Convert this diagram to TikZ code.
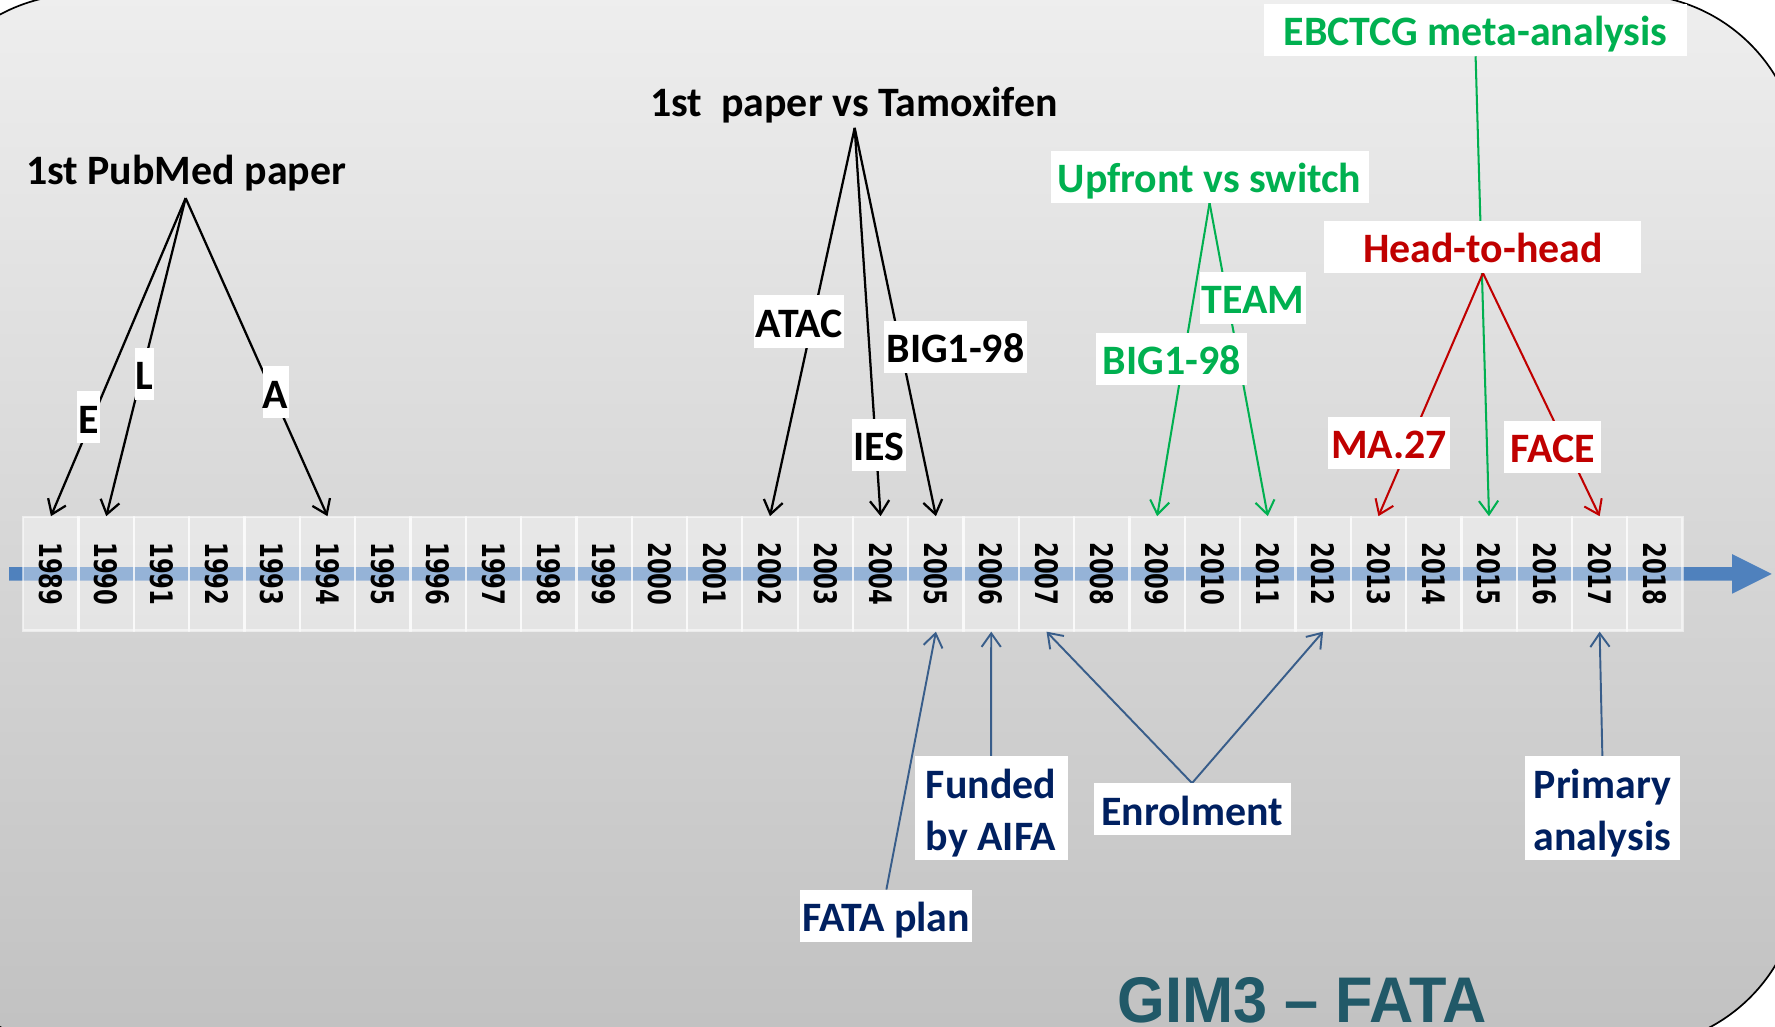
\documentclass[tikz,border=0pt]{standalone}
\usepackage{fontspec}
\usepackage{graphicx}
\setmainfont{Carlito}
\newfontfamily\yearfont{DejaVu Sans}
\newfontfamily\titlefont{Liberation Sans}
\usetikzlibrary{arrows.meta}
\definecolor{bgtop}{RGB}{238,238,238}
\definecolor{bgbot}{RGB}{193,193,193}
\definecolor{barblue}{RGB}{79,129,189}
\definecolor{grn}{RGB}{0,176,80}
\definecolor{redc}{RGB}{192,0,0}
\definecolor{navy}{RGB}{0,32,96}
\definecolor{lineblue}{RGB}{56,93,138}
\definecolor{teal}{RGB}{33,89,104}
\pgfdeclarelayer{bg}
\pgfdeclarelayer{lines}
\pgfsetlayers{bg,lines,main}
\newcommand\lblfont{\fontsize{37}{46}\selectfont\bfseries}
\tikzset{
  cell/.style={draw=white, draw opacity=0.55, line width=2pt, fill=white, fill opacity=0.4, text opacity=1,
    minimum width=48.86pt, minimum height=100pt, inner sep=0pt},
  lbl/.style={fill=white, inner xsep=0pt, inner ysep=0pt, minimum height=46pt,
    text height=28pt, text depth=0pt, font=\lblfont},
  lbltwo/.style={lbl, align=center, text height=74pt, minimum height=92pt},
  hdr/.style={font=\lblfont, inner sep=0pt, anchor=base},
  tip/.style={-{Straight Barb[length=12pt,width=17pt]}},
  blk/.style={draw=black, line width=2pt, tip},
  grnl/.style={draw=grn, line width=1.8pt, tip},
  redl/.style={draw=redc, line width=1.8pt, tip},
  bluel/.style={draw=lineblue, line width=1.7pt, tip},
}
\begin{document}
\begin{tikzpicture}[x=1pt,y=-1pt]
\useasboundingbox (0,0) rectangle (1568,907);
\clip (0,0) rectangle (1568,907);
\begin{pgfonlayer}{bg}
\fill[white] (0,0) rectangle (1568,907);
\path[draw=black, line width=1.5pt, top color=bgtop, bottom color=bgbot, rounded corners=150pt]
  (-79,-5) rectangle (1590,925);
\fill[barblue] (8,501) -- (1530,501) -- (1530,489.5) -- (1565,507) -- (1530,524.5)
  -- (1530,513) -- (8,513) -- cycle;
\foreach \yr [evaluate=\yr as \xx using {45+48.86*(\yr-1989)}] in {1989,...,2018} {
  \node[cell] (y\yr) at (\xx,507)
    {\rotatebox{-90}{\scalebox{0.73}[1]{\fontsize{27.4}{30}\yearfont\bfseries\yr}}};
}
\end{pgfonlayer}

% headers and apex nodes
\node[hdr] (pub) at (164.5,163) {1st PubMed paper};
\coordinate (pubA) at (164,175);
\node[hdr] (tam) at (754.5,102.5) {1st\ \ paper vs Tamoxifen};
\coordinate (tamA) at (755,113);
\node[lbl, text=grn, minimum width=281pt] (up) at (1068.5,156) {Upfront vs switch};
\node[lbl, text=grn, minimum width=373pt] (eb) at (1303.5,26.5) {EBCTCG meta-analysis};
\node[lbl, text=redc, minimum width=280pt] (hh) at (1310,218) {Head-to-head};
\node[lbl, text=navy, minimum width=152pt] (fata) at (783,809) {FATA plan};
\node[lbltwo, text=navy, minimum width=135pt] (fund) at (875.5,714) {Funded\\by AIFA};
\node[lbl, text=navy, minimum width=174pt] (enr) at (1053,715) {Enrolment};
\node[lbltwo, text=navy, minimum width=137pt] (prim) at (1415.5,714) {Primary\\analysis};

\begin{pgfonlayer}{lines}
\draw[blk] (pubA) -- (y1989.north);
\draw[blk] (pubA) -- (y1990.north);
\draw[blk] (pubA) -- (y1994.north);
\draw[blk] (tamA) -- (y2002.north);
\draw[blk] (tamA) -- (y2004.north);
\draw[blk] (tamA) -- (y2005.north);
\draw[grnl] (up.south) -- (y2009.north);
\draw[grnl] (up.south) -- (y2011.north);
\draw[grnl] (eb.south) -- (y2015.north);
\draw[redl] (hh.south) -- (y2013.north);
\draw[redl] (hh.south) -- (y2017.north);
\draw[bluel] (fata.north) -- (y2005.south);
\draw[bluel] (fund.north) -- (y2006.south);
\draw[bluel] (enr.north) -- (y2007.south);
\draw[bluel] (enr.north) -- (y2012.south);
\draw[bluel] (prim.north) -- (y2017.south);
\end{pgfonlayer}

% labels sitting on connectors
\node[lbl, minimum width=20pt] (lE) at (78,368.5) {E};
\node[lbl, minimum width=17pt] (lL) at (127.5,330) {L};
\node[lbl, minimum width=23pt] (lA) at (243.5,346.5) {A};
\node[lbl, minimum width=80pt] (atac) at (706,284) {ATAC};
\node[lbl, minimum width=47pt] (ies) at (776.5,393) {IES};
\node[lbl, minimum width=126pt] (bigb) at (844,306.5) {BIG1-98};
\node[lbl, text=grn, minimum width=94pt] (team) at (1107,263) {TEAM};
\node[lbl, text=grn, minimum width=134pt] (bigg) at (1035,317) {BIG1-98};
\node[lbl, text=redc, minimum width=108pt] (ma) at (1227,391) {MA.27};
\node[lbl, text=redc, minimum width=85pt] (face) at (1371.5,395) {FACE};

\node[anchor=base, inner sep=0pt, text=teal] (title) at (1150,903)
  {\scalebox{0.95}[1]{\fontsize{57}{60}\titlefont\bfseries GIM3 – FATA}};
\end{tikzpicture}
\end{document}
